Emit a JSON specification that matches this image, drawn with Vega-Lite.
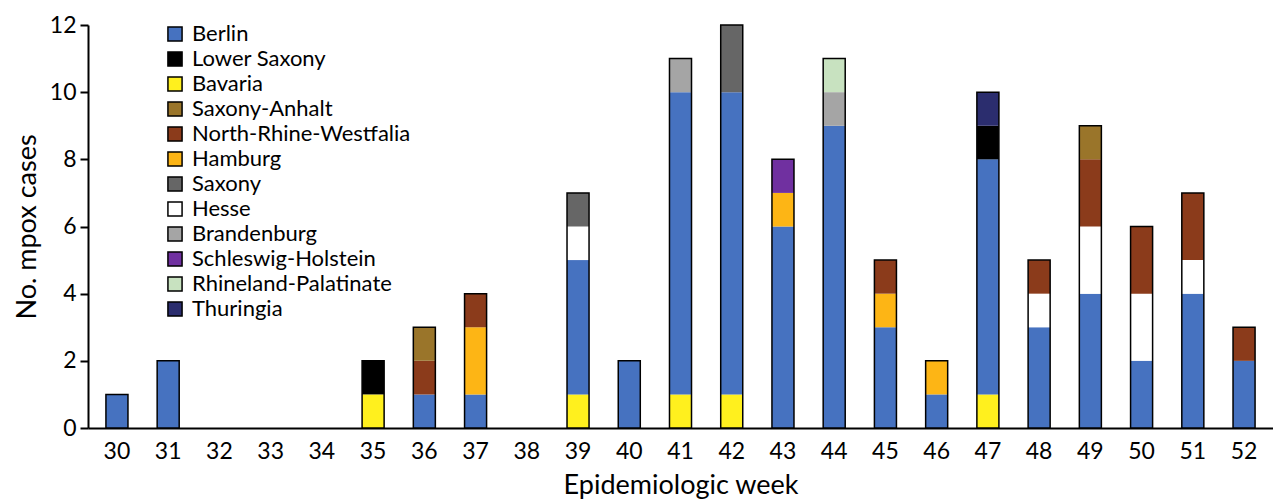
{
  "$schema": "https://vega.github.io/schema/vega-lite/v6.json",
  "autosize": "none",
  "width": 1185,
  "height": 403,
  "padding": {"left": 88, "top": 25, "right": 0, "bottom": 72},
  "background": "white",
  "config": {
    "font": "Lato",
    "view": {"stroke": null},
    "axis": {"grid": false, "domainColor": "black", "domainWidth": 2, "tickColor": "black", "labelColor": "black", "titleColor": "black", "titleFontWeight": "normal", "labelFont": "Lato", "titleFont": "Lato"}
  },
  "data": {
    "values": [
      {"week": 30, "state": "Berlin", "cases": 1},
      {"week": 31, "state": "Berlin", "cases": 2},
      {"week": 35, "state": "Bavaria", "cases": 1},
      {"week": 35, "state": "Lower Saxony", "cases": 1},
      {"week": 36, "state": "Berlin", "cases": 1},
      {"week": 36, "state": "North-Rhine-Westfalia", "cases": 1},
      {"week": 36, "state": "Saxony-Anhalt", "cases": 1},
      {"week": 37, "state": "Berlin", "cases": 1},
      {"week": 37, "state": "Hamburg", "cases": 2},
      {"week": 37, "state": "North-Rhine-Westfalia", "cases": 1},
      {"week": 39, "state": "Bavaria", "cases": 1},
      {"week": 39, "state": "Berlin", "cases": 4},
      {"week": 39, "state": "Hesse", "cases": 1},
      {"week": 39, "state": "Saxony", "cases": 1},
      {"week": 40, "state": "Berlin", "cases": 2},
      {"week": 41, "state": "Bavaria", "cases": 1},
      {"week": 41, "state": "Berlin", "cases": 9},
      {"week": 41, "state": "Brandenburg", "cases": 1},
      {"week": 42, "state": "Bavaria", "cases": 1},
      {"week": 42, "state": "Berlin", "cases": 9},
      {"week": 42, "state": "Saxony", "cases": 2},
      {"week": 43, "state": "Berlin", "cases": 6},
      {"week": 43, "state": "Hamburg", "cases": 1},
      {"week": 43, "state": "Schleswig-Holstein", "cases": 1},
      {"week": 44, "state": "Berlin", "cases": 9},
      {"week": 44, "state": "Brandenburg", "cases": 1},
      {"week": 44, "state": "Rhineland-Palatinate", "cases": 1},
      {"week": 45, "state": "Berlin", "cases": 3},
      {"week": 45, "state": "Hamburg", "cases": 1},
      {"week": 45, "state": "North-Rhine-Westfalia", "cases": 1},
      {"week": 46, "state": "Berlin", "cases": 1},
      {"week": 46, "state": "Hamburg", "cases": 1},
      {"week": 47, "state": "Bavaria", "cases": 1},
      {"week": 47, "state": "Berlin", "cases": 7},
      {"week": 47, "state": "Lower Saxony", "cases": 1},
      {"week": 47, "state": "Thuringia", "cases": 1},
      {"week": 48, "state": "Berlin", "cases": 3},
      {"week": 48, "state": "Hesse", "cases": 1},
      {"week": 48, "state": "North-Rhine-Westfalia", "cases": 1},
      {"week": 49, "state": "Berlin", "cases": 4},
      {"week": 49, "state": "Hesse", "cases": 2},
      {"week": 49, "state": "North-Rhine-Westfalia", "cases": 2},
      {"week": 49, "state": "Saxony-Anhalt", "cases": 1},
      {"week": 50, "state": "Berlin", "cases": 2},
      {"week": 50, "state": "Hesse", "cases": 2},
      {"week": 50, "state": "North-Rhine-Westfalia", "cases": 2},
      {"week": 51, "state": "Berlin", "cases": 4},
      {"week": 51, "state": "Hesse", "cases": 1},
      {"week": 51, "state": "North-Rhine-Westfalia", "cases": 2},
      {"week": 52, "state": "Berlin", "cases": 2},
      {"week": 52, "state": "North-Rhine-Westfalia", "cases": 1}
    ]
  },
  "layer": [
    {
      "transform": [
        {"calculate": "indexof(['Bavaria','Berlin','Hamburg','Hesse','Brandenburg','Schleswig-Holstein','Saxony','North-Rhine-Westfalia','Saxony-Anhalt','Lower Saxony','Rhineland-Palatinate','Thuringia'], datum.state)", "as": "stackorder"}
      ],
      "mark": {"type": "bar"},
      "encoding": {
        "x": {
          "field": "week", "type": "ordinal",
          "scale": {"domain": [30,31,32,33,34,35,36,37,38,39,40,41,42,43,44,45,46,47,48,49,50,51,52], "paddingInner": 0.57, "paddingOuter": 0.35},
          "axis": {"title": "Epidemiologic week", "labelAngle": 0, "labelFontSize": 23, "titleFontSize": 27, "ticks": false, "labelPadding": 12, "titlePadding": 9}
        },
        "y": {
          "field": "cases", "type": "quantitative", "aggregate": "sum", "stack": "zero",
          "scale": {"domain": [0, 12], "nice": false},
          "axis": {"title": "No. mpox cases", "values": [0,2,4,6,8,10,12], "labelFontSize": 23, "titleFontSize": 27, "tickSize": 8, "tickWidth": 2, "labelPadding": 4, "titlePadding": 8}
        },
        "order": {"field": "stackorder", "type": "quantitative", "aggregate": "min"},
        "color": {
          "field": "state", "type": "nominal",
          "scale": {
            "domain": ["Berlin","Lower Saxony","Bavaria","Saxony-Anhalt","North-Rhine-Westfalia","Hamburg","Saxony","Hesse","Brandenburg","Schleswig-Holstein","Rhineland-Palatinate","Thuringia"],
            "range": ["#4672C0","#000000","#FFF01E","#9A752A","#8B3B1B","#FDB515","#666666","#FFFFFF","#A5A5A5","#7030A0","#C8E2C0","#2B2D6E"]
          },
          "legend": {
            "title": null, "orient": "none", "legendX": 76, "legendY": -2,
            "symbolType": "square", "symbolSize": 200, "symbolStrokeColor": "black", "symbolStrokeWidth": 1.5,
            "labelFontSize": 22, "labelColor": "black", "rowPadding": 3, "labelOffset": 6, "labelLimit": 400
          }
        }
      }
    },
    {
      "mark": {"type": "bar", "fill": null, "fillOpacity": 0, "stroke": "black", "strokeWidth": 1.5},
      "encoding": {
        "x": {"field": "week", "type": "ordinal"},
        "y": {"field": "cases", "type": "quantitative", "aggregate": "sum"}
      }
    }
  ]
}
